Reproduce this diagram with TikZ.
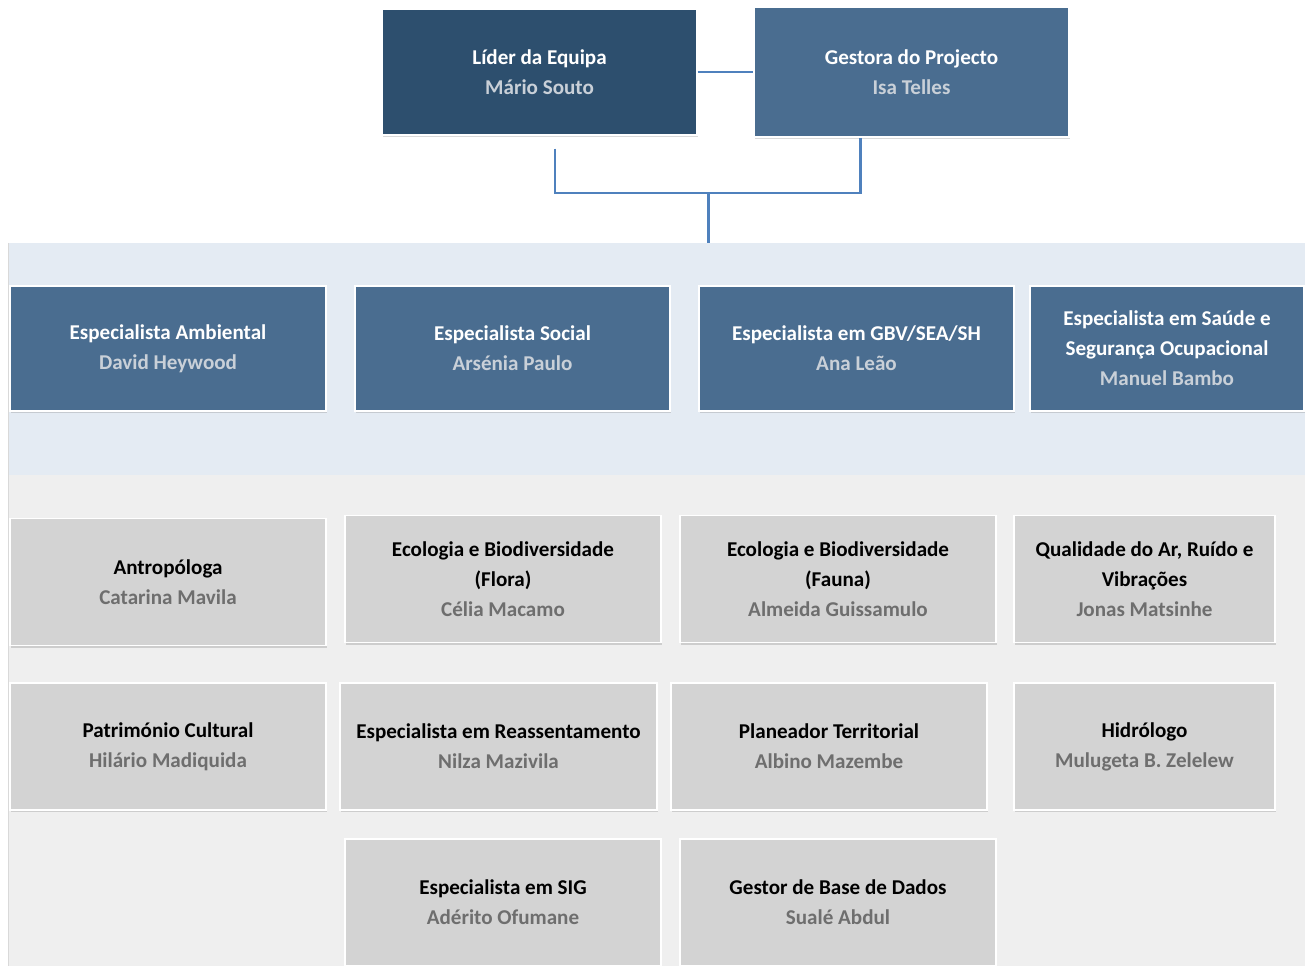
\documentclass[tikz,border=0pt]{standalone}
\usepackage{fontspec}
\setmainfont{Carlito}
\usetikzlibrary{calc,shadows}
\definecolor{leaddark}{HTML}{2D4F6E}
\definecolor{leadblue}{HTML}{4A6D90}
\definecolor{linkblue}{HTML}{4F81BD}
\definecolor{bandblue}{HTML}{E4EBF3}
\definecolor{bandgrey}{HTML}{EFEFEF}
\definecolor{cardgrey}{HTML}{D3D3D3}
\definecolor{namegrey}{HTML}{6E6E6E}
\definecolor{namelight}{HTML}{C9D0D8}
\tikzset{
	card/.style={draw=white, line width=0.8pt, align=center, inner sep=2pt,
		font=\bfseries\fontsize{12}{17}\selectfont,
		drop shadow={shadow xshift=0.8pt, shadow yshift=-1.2pt, opacity=0.3}},
	leadcard/.style={card, fill=leaddark, text=white, minimum height=2.52cm},
	bluecard/.style={card, fill=leadblue, text=white, minimum height=2.5cm},
	greycard/.style={card, fill=cardgrey, text=black, minimum height=2.54cm},
	link/.style={linkblue, line width=1.7pt}
}
\newcommand{\blname}[1]{{\color{namelight}#1}}
\newcommand{\grname}[1]{{\color{namegrey}#1}}
\begin{document}
\begin{tikzpicture}[x=0.02cm,y=-0.02cm]
				\useasboundingbox (0,0) rectangle (1309,966);
				\fill[bandblue] (8,243) rectangle (1305,475);
				\fill[bandgrey] (8,475) rectangle (1305,966);
				\draw[black!15, line width=0.8pt] (8.5,243) -- (8.5,966);
				
				\node[leadcard, minimum width=6.3cm] (lider) at (539.5,72) {Líder da Equipa\\\blname{Mário Souto}};
				\node[leadcard, fill=leadblue, minimum width=6.3cm, minimum height=2.6cm] (gestora) at (911.5,72) {Gestora do Projecto\\\blname{Isa Telles}};
				
				\coordinate (jl) at (555,193);
				\coordinate (jr) at (860,193);
				\coordinate (fork) at (708,193);
				\coordinate (bandtop) at (708,243);
				\draw[link] (lider.east) -- (gestora.west);
				\draw[link] ($(lider.south -| jl)+(0,13)$) -- (jl) -- (jr) -- (gestora.south -| jr);
				\draw[link] (fork) -- (bandtop);
				
				\node[bluecard, minimum width=6.32cm] (ambiental) at (168,348.5) {Especialista Ambiental\\\blname{David Heywood}};
				\node[bluecard, minimum width=6.3cm] (social) at (512.5,348.5) {Especialista Social\\\blname{Arsénia Paulo}};
				\node[bluecard, minimum width=6.3cm] (gbv) at (856.5,348.5) {Especialista em GBV/SEA/SH\\\blname{Ana Leão}};
				\node[bluecard, minimum width=5.48cm] (saude) at (1167,348.5) {Especialista em Saúde e\\Segurança Ocupacional\\\blname{Manuel Bambo}};
				
				\node[greycard, minimum width=6.32cm] (antrop) at (168,582) {Antropóloga\\\grname{Catarina Mavila}};
				\node[greycard, minimum width=6.32cm] (flora) at (503,579) {Ecologia e Biodiversidade\\(Flora)\\\grname{Célia Macamo}};
				\node[greycard, minimum width=6.32cm] (fauna) at (838,579) {Ecologia e Biodiversidade\\(Fauna)\\\grname{Almeida Guissamulo}};
				\node[greycard, minimum width=5.22cm] (ar) at (1144.5,579) {Qualidade do Ar, Ruído e\\Vibrações\\\grname{Jonas Matsinhe}};
				
				\node[greycard, minimum width=6.32cm] (patrim) at (168,746.5) {Património Cultural\\\grname{Hilário Madiquida}};
				\node[greycard, minimum width=6.34cm] (reass) at (498.5,746.5) {Especialista em Reassentamento\\\grname{Nilza Mazivila}};
				\node[greycard, minimum width=6.32cm] (planeador) at (829,746.5) {Planeador Territorial\\\grname{Albino Mazembe}};
				\node[greycard, minimum width=5.22cm] (hidro) at (1144.5,746.5) {Hidrólogo\\\grname{Mulugeta B. Zelelew}};
				
				\node[greycard, minimum width=6.32cm] (sig) at (503,902.5) {Especialista em SIG\\\grname{Adérito Ofumane}};
				\node[greycard, minimum width=6.32cm] (dados) at (838,902.5) {Gestor de Base de Dados\\\grname{Sualé Abdul}};
			\end{tikzpicture}
\end{document}
